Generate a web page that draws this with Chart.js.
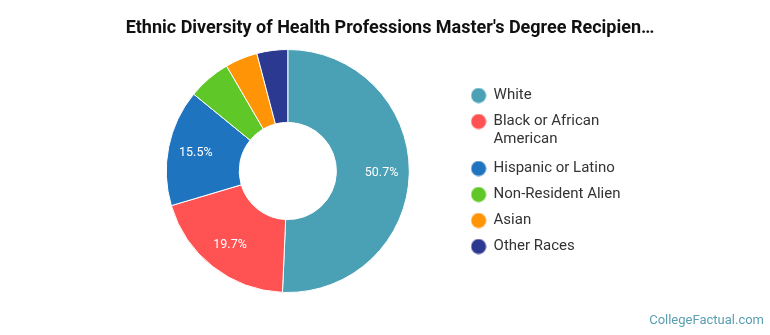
<!DOCTYPE html>
<html>
<head>
<meta charset="utf-8">
<script src="https://cdn.jsdelivr.net/npm/chart.js@4"></script>
<style>
  html, body { margin: 0; padding: 0; background: #fff; }
  #wrap { width: 770px; height: 335px; }
</style>
</head>
<body>
<div id="wrap"><canvas id="myChart" width="770" height="335"></canvas></div>
<script>
const titleText = "Ethnic Diversity of Health Professions Master's Degree Recipien\u2026";
const labels = ['White', ['Black or African', 'American'], 'Hispanic or Latino', 'Non-Resident Alien', 'Asian', 'Other Races'];
const values = [50.7, 19.7, 15.5, 5.7, 4.3, 4.1];
const colors = ['#4aa0b5', '#ff5252', '#1f74bf', '#5fc828', '#ff9506', '#2b3990'];

// marcador redondo de la leyenda (canvas pequeño)
function makeMarker(color) {
  const c = document.createElement('canvas');
  c.width = 16;
  c.height = 16;
  const g = c.getContext('2d');
  g.fillStyle = color;
  g.beginPath();
  g.arc(8, 8, 7.5, 0, Math.PI * 2);
  g.fill();
  return c;
}
const markers = colors.map(makeMarker);

// porcentajes dentro de los segmentos grandes + titulo + marca
const extras = {
  id: 'extras',
  afterDatasetsDraw(chart) {
    const ctx = chart.ctx;
    const meta = chart.getDatasetMeta(0);
    ctx.save();
    ctx.font = '12.5px Roboto';
    ctx.fillStyle = '#fff';
    ctx.textAlign = 'center';
    ctx.textBaseline = 'middle';
    meta.data.forEach((arc, i) => {
      if (values[i] < 10) return;
      const p = arc.getProps(['x', 'y', 'startAngle', 'endAngle', 'innerRadius', 'outerRadius']);
      const a = (p.startAngle + p.endAngle) / 2;
      const r = p.innerRadius + (p.outerRadius - p.innerRadius) * 0.62;
      ctx.fillText(values[i].toFixed(1) + '%', p.x + Math.cos(a) * r, p.y + Math.sin(a) * r);
    });
    ctx.font = 'bold 18px Roboto';
    ctx.fillStyle = '#111';
    ctx.fillText(titleText, 390, 28);
    ctx.font = '13px Roboto';
    ctx.fillStyle = '#5a9fb0';
    ctx.textAlign = 'right';
    ctx.fillText('CollegeFactual.com', 764, 321);
    ctx.restore();
  }
};

new Chart('myChart', {
  type: 'doughnut',
  data: {
    labels: labels,
    datasets: [{
      data: values,
      backgroundColor: colors,
      borderColor: '#fff',
      borderWidth: 1
    }]
  },
  options: {
    responsive: false,
    animation: false,
    cutout: '40%',
    layout: { padding: { top: 49, bottom: 42, left: 115.5, right: 139.5 } },
    plugins: {
      title: { display: false },
      tooltip: { enabled: false },
      legend: {
        position: 'right',
        labels: {
          usePointStyle: true,
          padding: 11,
          color: '#333',
          font: { family: 'Roboto', size: 15, lineHeight: 1.2 },
          generateLabels(chart) {
            const items = Chart.overrides.doughnut.plugins.legend.labels.generateLabels(chart);
            items.forEach((it, i) => { it.pointStyle = markers[i]; });
            return items;
          }
        }
      }
    }
  },
  plugins: [extras]
});
</script>
</body>
</html>
